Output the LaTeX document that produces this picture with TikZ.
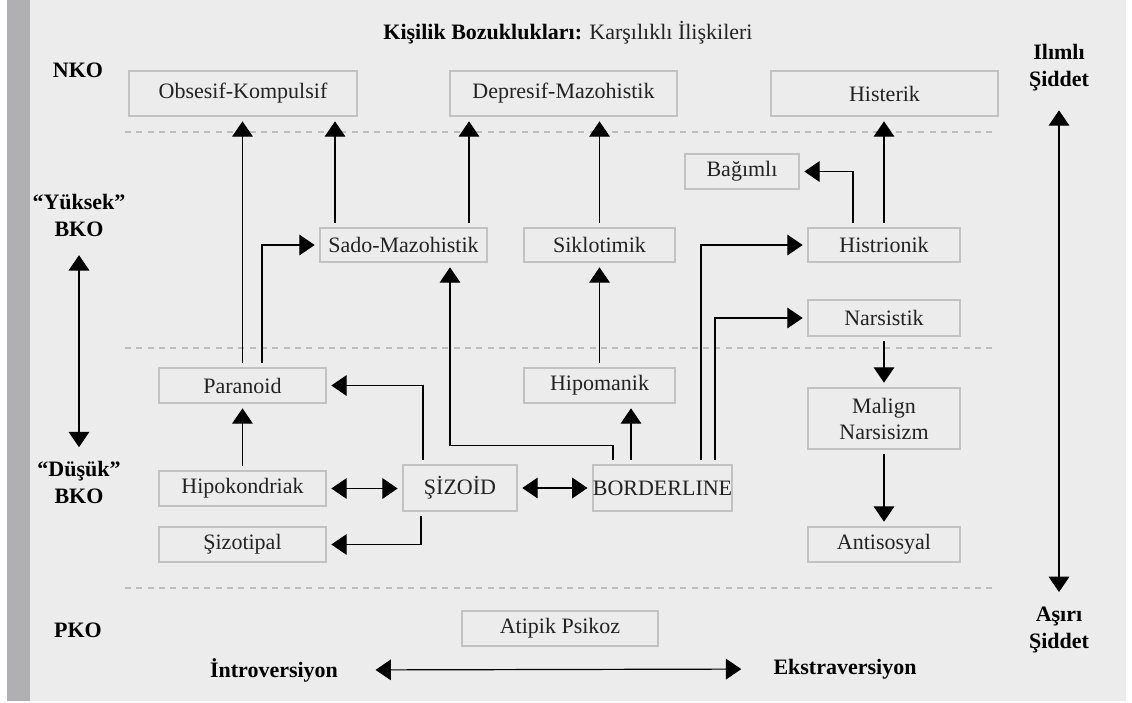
\documentclass[tikz,border=0pt]{standalone}
\usepackage{fontspec}
\setmainfont{Liberation Serif}
\usetikzlibrary{arrows.meta,calc}

\definecolor{bgcol}{HTML}{ECECEC}
\definecolor{barcol}{HTML}{B0B0B2}
\definecolor{boxcol}{HTML}{C2C2C2}
\definecolor{dashcol}{HTML}{BDBDBD}
\definecolor{txtcol}{HTML}{222222}

\newcommand{\pxu}{0.75pt}
\newcommand{\boxfont}{\fontsize{16.5}{19.5}\selectfont}
\newcommand{\lblfont}{\fontsize{16.5}{20.25}\selectfont\bfseries}

\tikzset{
	box/.style={draw=boxcol, line width=1.1pt, text=txtcol, font=\boxfont,
		inner sep=0pt, outer sep=4pt, align=center},
	bw/.style={minimum width=#1*\pxu},
	bh/.style={minimum height=#1*\pxu},
	lbl/.style={font=\lblfont, text=black, align=center, inner sep=0pt},
	tip/.tip={Triangle[width=15.5pt,length=11.5pt]},
	arr/.style={-tip, line width=0.9pt, black},
	darr/.style={tip-tip, line width=0.9pt, black}
}

\begin{document}
\begin{tikzpicture}[x=\pxu,y=-\pxu]
	%canvas
	\useasboundingbox (0,0) rectangle (1132,703);
	\fill[bgcol] (30,0) rectangle (1126,701);
	\fill[barcol] (7,0) rectangle (30,701);

	%level separators
	\foreach \y in {132,348,588}{
		\draw[dashcol, line width=0.9pt, dash pattern=on 4.5pt off 4pt] (125,\y) -- (997,\y);
	}

	%title and side labels
	\node[font=\boxfont, text=txtcol, inner sep=0pt] (title) at (568,33)
		{\textbf{\color{black}Kişilik Bozuklukları:} Karşılıklı İlişkileri};
	\node[lbl] (nko) at (78,70) {NKO};
	\node[lbl] (yuksek) at (79,215) {“Yüksek”\\BKO};
	\node[lbl] (dusuk) at (79,482) {“Düşük”\\BKO};
	\node[lbl] (pko) at (78,630) {PKO};
	\node[lbl] (ilimli) at (1059,68) {Ilımlı\\Şiddet};
	\node[lbl] (asiri) at (1059,630) {Aşırı\\Şiddet};
	\node[lbl] (intro) at (274,670) {İntroversiyon};
	\node[lbl] (ekstra) at (845,669) {Ekstraversiyon};

	%NKO boxes
	\node[box,bw=228,bh=45] (obs) at (243,93.5) {Obsesif-Kompulsif};
	\node[box,bw=227,bh=45] (dep) at (563.5,93.5) {Depresif-Mazohistik};
	\node[box,bw=227,bh=45] (hist) at (884.5,93.5) {Histerik};

	%high BKO boxes
	\node[box,bw=114,bh=35] (bag) at (742,171.5) {Bağımlı};
	\node[box,bw=167,bh=34] (sado) at (403.5,245) {Sado-Mazohistik};
	\node[box,bw=151,bh=34] (sik) at (599.5,245) {Siklotimik};
	\node[box,bw=152,bh=34] (histr) at (884,245) {Histrionik};
	\node[box,bw=152,bh=36] (nars) at (884,318) {Narsistik};

	%low BKO boxes
	\node[box,bw=167,bh=35] (para) at (242.5,385.5) {Paranoid};
	\node[box,bw=151,bh=35] (hipom) at (599.5,385.5) {Hipomanik};
	\node[box,bw=152,bh=61] (malign) at (884,418.5) {Malign\\Narsisizm};
	\node[box,bw=167,bh=35] (hipok) at (242.5,488.5) {Hipokondriak};
	\node[box,bw=114,bh=46] (sizoid) at (460,488) {ŞİZOİD};
	\node[box,bw=137,bh=46] (border) at (662.5,488) {BORDERLINE};
	\node[box,bw=167,bh=35] (sizot) at (242.5,544.5) {Şizotipal};
	\node[box,bw=152,bh=35] (anti) at (884,544.5) {Antisosyal};

	%PKO box
	\node[box,bw=196,bh=35] (atipik) at (560,628.5) {Atipik Psikoz};

	%connector feet
	\coordinate (parA) at ($(para.north)+(19.5,0)$);
	\coordinate (sadoL) at ($(sado.north)+(-68.5,0)$);
	\coordinate (sadoR) at ($(sado.north)+(65.5,0)$);
	\coordinate (hisA) at ($(histr.north)+(-31,0)$);
	\coordinate (sizA) at ($(sizoid.north)+(-37,0)$);
	\coordinate (sizB) at ($(sizoid.south)+(-39,0)$);
	\coordinate (brdA) at ($(border.north)+(-49.5,0)$);
	\coordinate (brdB) at ($(border.north)+(-31.5,0)$);
	\coordinate (brdC) at ($(border.north)+(38.5,0)$);
	\coordinate (brdD) at ($(border.north)+(52.5,0)$);

	%draw arrows up to NKO
	\draw[arr] (para.north) -- (para.north |- obs.south);
	\draw[arr] (sadoL) -- (sadoL |- obs.south);
	\draw[arr] (sadoR) -- (sadoR |- dep.south);
	\draw[arr] (sik.north) -- (sik.north |- dep.south);
	\draw[arr] (histr.north) -- (histr.north |- hist.south);

	%draw arrows inside BKO
	\draw[arr] (hisA) |- (bag.east);
	\draw[arr] (parA) |- (sado.west);
	\draw[arr] (hipom.north) -- (hipom.north |- sik.south);
	\draw[arr] (hipok.north) -- (hipok.north |- para.south);
	\draw[arr] (sizA) |- (para.east);
	\draw[arr] (sizB) |- (sizot.east);
	\draw[arr] (brdA) -- ++(0,-14) -| ($(sado.south)+(46.5,0)$);
	\draw[arr] (brdB) -- (brdB |- hipom.south);
	\draw[arr] (brdC) |- (histr.west);
	\draw[arr] (brdD) |- (nars.west);
	\draw[arr] (nars.south) -- (malign.north);
	\draw[arr] (malign.south) -- (anti.north);
	\draw[darr] (hipok.east) -- (hipok.east -| sizoid.west);
	\draw[darr] (sizoid.east) -- (border.west);

	%draw axis arrows
	\draw[darr, shorten <=14pt, shorten >=10pt] (yuksek.south) -- (dusuk.north);
	\draw[darr, shorten <=14pt, shorten >=11pt] (ilimli.south) -- (asiri.north);
	\draw[darr, shorten <=28pt, shorten >=24pt] (intro.east) -- (ekstra.west);
\end{tikzpicture}
\end{document}
